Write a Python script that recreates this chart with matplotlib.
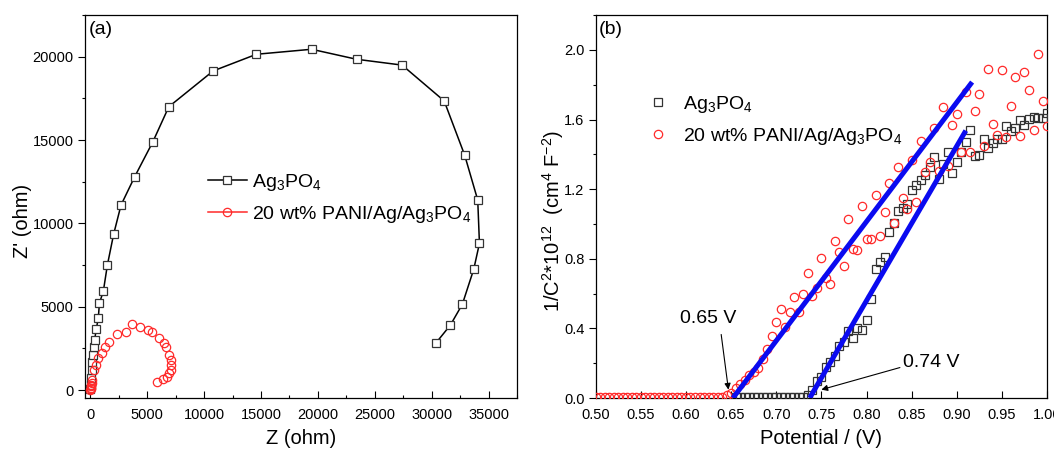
import matplotlib.pyplot as plt
from matplotlib.lines import Line2D
from matplotlib.ticker import MultipleLocator

plt.rcParams['font.family'] = ['Liberation Sans', 'DejaVu Sans']
plt.rcParams['mathtext.default'] = 'regular'

# (a) Nyquist plots, Z and Z' in ohm
ag_z = [0, 30, 80, 120, 170, 230, 300, 380, 520, 700,
        800, 1150, 1500, 2050, 2700, 3900, 5500, 6900, 10800, 14600,
        19450, 23400, 27400, 31100, 32900, 34050, 34200, 33700, 32700, 31650,
        30350]
ag_zi = [50, 300, 700, 1200, 1700, 2100, 2600, 3000, 3650, 4300,
         5200, 5950, 7500, 9350, 11100, 12800, 14900, 17000, 19150, 20150,
         20450, 19850, 19500, 17350, 14100, 11400, 8800, 7250, 5150, 3900,
         2800]

pani_z = [0, 20, 40, 60, 90, 130, 175, 290, 500, 700,
          1000, 1320, 1670, 2310, 3130, 3655, 4390, 5030, 5380, 6000,
          6490, 6640, 6930, 7080, 7130, 7080, 6930, 6700, 6350, 5850]
pani_zi = [0, 60, 130, 220, 320, 450, 600, 1200, 1500, 1900,
           2240, 2600, 2900, 3360, 3460, 3960, 3760, 3600, 3500, 3100,
           2800, 2600, 2100, 1800, 1500, 1200, 1000, 800, 640, 500]

# (b) Mott-Schottky plots, potential in V and 1/C^2 in 1e12 cm^4 F^-2
ag_v = [0.655, 0.660, 0.665, 0.670, 0.675, 0.680, 0.685, 0.690, 0.695, 0.700,
        0.705, 0.710, 0.715, 0.720, 0.725, 0.730, 0.735, 0.740, 0.745, 0.750,
        0.755, 0.760, 0.765, 0.770, 0.775, 0.780, 0.785, 0.790, 0.795, 0.800,
        0.805, 0.810, 0.815, 0.820, 0.825, 0.830, 0.835, 0.840, 0.845, 0.850,
        0.855, 0.860, 0.865, 0.870, 0.875, 0.880, 0.885, 0.890, 0.895, 0.900,
        0.905, 0.910, 0.915, 0.920, 0.925, 0.930, 0.935, 0.940, 0.945, 0.950,
        0.955, 0.960, 0.965, 0.970, 0.975, 0.980, 0.985, 0.990, 0.995, 1.000]
ag_c = [0.004, 0.004, 0.004, 0.004, 0.004, 0.004, 0.004, 0.004, 0.004, 0.004,
        0.004, 0.004, 0.004, 0.004, 0.004, 0.006, 0.020, 0.045, 0.100, 0.120,
        0.180, 0.205, 0.240, 0.300, 0.320, 0.385, 0.345, 0.400, 0.390, 0.450,
        0.570, 0.740, 0.780, 0.810, 0.955, 1.006, 1.077, 1.090, 1.114, 1.196,
        1.223, 1.253, 1.280, 1.330, 1.382, 1.257, 1.344, 1.415, 1.292, 1.357,
        1.415, 1.472, 1.539, 1.390, 1.398, 1.486, 1.436, 1.468, 1.488, 1.488,
        1.561, 1.534, 1.549, 1.599, 1.570, 1.603, 1.616, 1.610, 1.610, 1.636]

pani_v = [0.500, 0.505, 0.510, 0.515, 0.520, 0.525, 0.530, 0.535, 0.540, 0.545,
          0.550, 0.555, 0.560, 0.565, 0.570, 0.575, 0.580, 0.585, 0.590, 0.595,
          0.600, 0.605, 0.610, 0.615, 0.620, 0.625, 0.630, 0.635, 0.640, 0.645,
          0.650, 0.655, 0.660, 0.665, 0.670, 0.675, 0.680, 0.685, 0.690, 0.695,
          0.700, 0.705, 0.710, 0.715, 0.720, 0.725, 0.730, 0.735, 0.740, 0.745,
          0.750, 0.755, 0.760, 0.765, 0.770, 0.775, 0.780, 0.785, 0.790, 0.795,
          0.800, 0.805, 0.810, 0.815, 0.820, 0.825, 0.830, 0.835, 0.840, 0.845,
          0.850, 0.855, 0.860, 0.865, 0.870, 0.875, 0.880, 0.885, 0.890, 0.895,
          0.900, 0.905, 0.910, 0.915, 0.920, 0.925, 0.930, 0.935, 0.940, 0.945,
          0.950, 0.955, 0.960, 0.965, 0.970, 0.975, 0.980, 0.985, 0.990, 0.995,
          1.000]
pani_c = [0.004, 0.004, 0.004, 0.004, 0.004, 0.004, 0.004, 0.004, 0.004, 0.004,
          0.004, 0.004, 0.004, 0.004, 0.004, 0.004, 0.004, 0.004, 0.004, 0.004,
          0.004, 0.004, 0.004, 0.004, 0.004, 0.004, 0.004, 0.004, 0.008, 0.015,
          0.030, 0.060, 0.080, 0.105, 0.130, 0.150, 0.175, 0.225, 0.282, 0.355,
          0.437, 0.512, 0.408, 0.492, 0.580, 0.492, 0.599, 0.718, 0.585, 0.633,
          0.804, 0.691, 0.654, 0.900, 0.838, 0.758, 1.027, 0.854, 0.850, 1.106,
          0.912, 0.916, 1.169, 0.931, 1.069, 1.234, 1.006, 1.326, 1.150, 1.088,
          1.369, 1.127, 1.478, 1.300, 1.355, 1.553, 1.307, 1.672, 1.334, 1.568,
          1.633, 1.415, 1.756, 1.415, 1.651, 1.747, 1.449, 1.891, 1.574, 1.511,
          1.887, 1.499, 1.679, 1.846, 1.503, 1.875, 1.772, 1.541, 1.977, 1.708,
          1.560]

# linear fits: flat-band potential (x intercept), slope, end of the drawn line
fb_pani, slope_pani, end_pani = 0.652, 6.85, 0.917
fb_ag, slope_ag, end_ag = 0.737, 8.88, 0.910

labels = ['Ag$_3$PO$_4$', '20 wt% PANI/Ag/Ag$_3$PO$_4$']
BLUE = '#0a0af0'
RED = '#ff2a2a'
GREY = '#333333'

fig = plt.figure(figsize=(10.54, 4.51), dpi=100)
ax1 = fig.add_axes([0.0805, 0.1175, 0.410, 0.849])
ax2 = fig.add_axes([0.5652, 0.1175, 0.4282, 0.849])

for ax in (ax1, ax2):
    ax.tick_params(axis='x', which='both', direction='in', labelsize=10.5, pad=7)
    ax.tick_params(axis='y', which='both', direction='out', labelsize=10.5, pad=3)
    ax.tick_params(which='major', length=5, width=0.8)
    ax.tick_params(which='minor', length=2.5, width=0.8)
    for sp in ax.spines.values():
        sp.set_linewidth(0.9)

# ---- (a) EIS ----
ax1.plot(ag_z, ag_zi, '-', color='black', lw=1.1, marker='s', ms=5.5,
         mfc='white', mec=GREY, mew=0.9, zorder=3)
ax1.plot(pani_z, pani_zi, 'none', marker='o', ms=6, mfc='none', mec=RED,
         mew=0.9, zorder=4)
ax1.set_xlim(-480, 37500)
ax1.set_ylim(-480, 22500)
ax1.xaxis.set_major_locator(MultipleLocator(5000))
ax1.xaxis.set_minor_locator(MultipleLocator(2500))
ax1.yaxis.set_major_locator(MultipleLocator(5000))
ax1.yaxis.set_minor_locator(MultipleLocator(2500))
ax1.set_xlabel('Z (ohm)', fontsize=14.5, labelpad=5)
ax1.set_ylabel("Z' (ohm)", fontsize=14.5)
ax1.yaxis.set_label_coords(-0.122, 0.462)
ax1.text(0.008, 0.985, '(a)', transform=ax1.transAxes, ha='left', va='top', fontsize=14)

h1 = [Line2D([], [], color='black', lw=1.1, marker='s', ms=5.5, mfc='white', mec=GREY, mew=0.9),
      Line2D([], [], color=RED, lw=1.1, marker='o', ms=6, mfc='none', mec=RED, mew=0.9)]
ax1.legend(h1, labels, loc='upper left', bbox_to_anchor=(0.285, 0.59), frameon=False,
           fontsize=14, handlelength=2.0, handletextpad=0.25, labelspacing=0.55,
           borderpad=0, borderaxespad=0)

# ---- (b) Mott-Schottky ----
ax2.plot(ag_v, ag_c, 'none', marker='s', ms=5.5, mfc='none', mec=GREY, mew=0.9, zorder=3)
ax2.plot(pani_v, pani_c, 'none', marker='o', ms=6, mfc='none', mec=RED, mew=0.9, zorder=4)
ax2.plot([fb_pani, end_pani], [0, slope_pani * (end_pani - fb_pani)], color=BLUE, lw=3.6,
         solid_capstyle='butt', zorder=5)
ax2.plot([fb_ag, end_ag], [0, slope_ag * (end_ag - fb_ag)], color=BLUE, lw=3.6,
         solid_capstyle='butt', zorder=5)
ax2.set_xlim(0.5, 1.0)
ax2.set_ylim(0, 2.2)
ax2.xaxis.set_major_locator(MultipleLocator(0.05))
ax2.yaxis.set_major_locator(MultipleLocator(0.4))
ax2.yaxis.set_minor_locator(MultipleLocator(0.2))
ax2.xaxis.set_major_formatter(plt.FormatStrFormatter('%.2f'))
ax2.yaxis.set_major_formatter(plt.FormatStrFormatter('%.1f'))
ax2.set_xlabel('Potential / (V)', fontsize=14.5, labelpad=5)
ax2.set_ylabel('1/C$^2$*10$^{12}$  (cm$^4$ F$^{-2}$)', fontsize=14.5)
ax2.yaxis.set_label_coords(-0.066, 0.462)
ax2.text(0.006, 0.985, '(b)', transform=ax2.transAxes, ha='left', va='top', fontsize=14)

arrow = dict(arrowstyle='-|>', color='black', lw=0.8, mutation_scale=9,
             shrinkA=0, shrinkB=0)
ax2.annotate('', xy=(0.647, 0.048), xytext=(0.639, 0.365), arrowprops=arrow)
ax2.text(0.6248, 0.457, f'{fb_pani:.2f} V', ha='center', va='center', fontsize=14)
ax2.annotate('', xy=(0.750, 0.048), xytext=(0.837, 0.175), arrowprops=arrow)
ax2.text(0.872, 0.204, f'{fb_ag:.2f} V', ha='center', va='center', fontsize=14)

h2 = [Line2D([], [], ls='none', marker='s', ms=5.5, mfc='none', mec=GREY, mew=0.9),
      Line2D([], [], ls='none', marker='o', ms=6, mfc='none', mec=RED, mew=0.9)]
ax2.legend(h2, labels, loc='upper left', bbox_to_anchor=(0.095, 0.795), frameon=False,
           fontsize=14, handlelength=2.0, handletextpad=0.3, labelspacing=0.6,
           borderpad=0, borderaxespad=0)

fig.savefig('out.png', dpi=100)
